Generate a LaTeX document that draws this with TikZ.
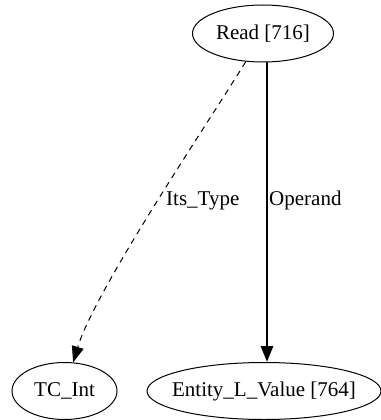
\documentclass[tikz,border=0pt]{standalone}
\usepackage{fontspec}
\setmainfont{Liberation Serif}
\usetikzlibrary{arrows.meta,shapes.geometric}

\tikzset{
  gnode/.style={draw, ellipse, line width=1pt, inner sep=0pt,
    minimum height=57pt, font=\fontsize{21}{25}\selectfont},
  glabel/.style={anchor=base west, inner sep=0pt, font=\fontsize{21}{25}\selectfont},
  garrow/.style={-{Triangle[length=16pt,width=12pt]}},
  boldedge/.style={garrow, line width=2.8pt},
  dashedge/.style={garrow, line width=1pt, dash pattern=on 6pt off 5pt}
}

\begin{document}
\begin{tikzpicture}[x=1pt, y=-1pt]
  \useasboundingbox (0,0) rectangle (380,420);

  % graph nodes
  \node[gnode, minimum width=141pt] (read) at (263,33.5) {\makebox[0pt]{Read [716]}};
  \node[gnode, minimum width=105pt] (tcint) at (64.5,391) {\makebox[0pt]{TC\_Int}};
  \node[gnode, minimum width=234pt] (entity) at (264,391) {\makebox[0pt]{Entity\_L\_Value [764]}};

  % edges
  \draw[boldedge] ([xshift=4pt]read.south) -- ([xshift=3pt]entity.north);
  \draw[dashedge] (read) .. controls (210,120) and (95,290) .. (tcint);

  % edge labels
  \node[glabel] (lbltype) at (166,205) {Its\_Type};
  \node[glabel] (lblop) at (269,205) {Operand};
\end{tikzpicture}
\end{document}
